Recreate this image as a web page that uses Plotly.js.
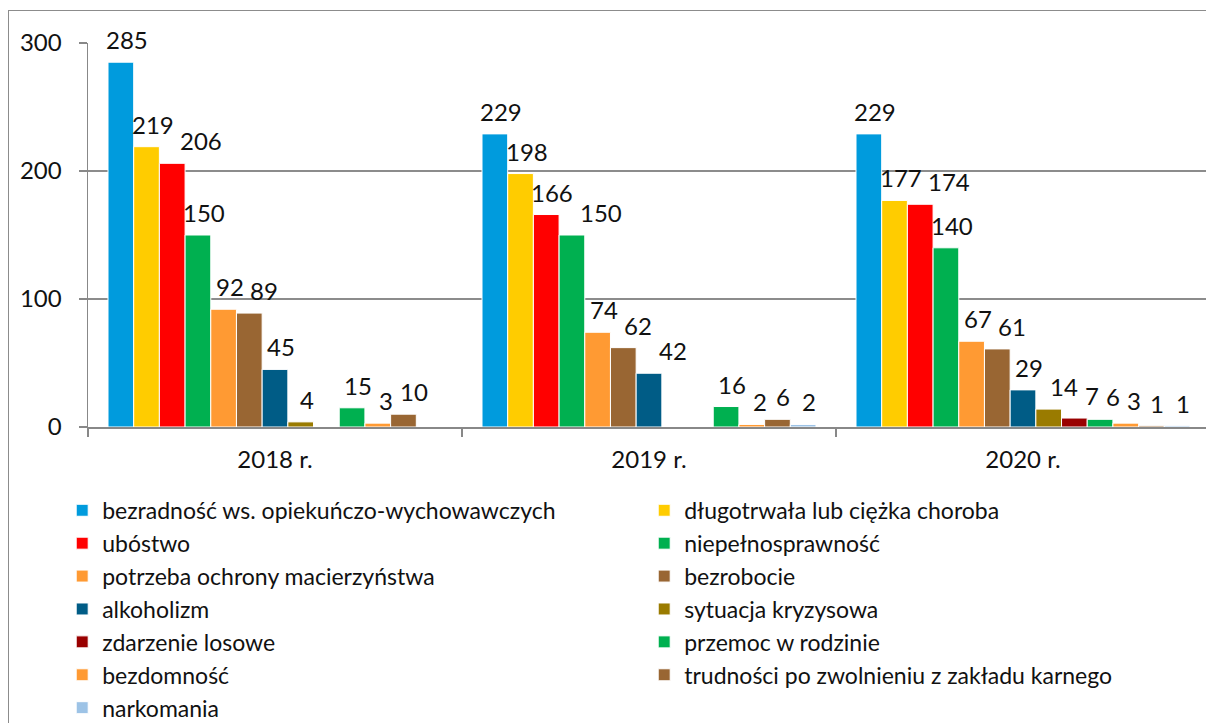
<!DOCTYPE html>
<html>
<head>
<meta charset="utf-8">
<script src="https://cdn.plot.ly/plotly-3.0.1.min.js"></script>
<style>
html, body { margin: 0; padding: 0; background: #fff; overflow: hidden; width: 1206px; height: 723px; }
#frame { position: absolute; left: 8px; top: 10px; width: 1300px; height: 800px; border-left: 1.5px solid #8c8c8c; border-top: 1.5px solid #8c8c8c; }
#chart { position: absolute; left: 0; top: 0; width: 1210px; height: 723px; }
</style>
</head>
<body>
<div id="frame"></div>
<div id="chart"></div>
<script>
const categories = ['2018 r.', '2019 r.', '2020 r.'];
const seriesNames = [
  'bezradność ws. opiekuńczo-wychowawczych',
  'długotrwała lub ciężka choroba',
  'ubóstwo',
  'niepełnosprawność',
  'potrzeba ochrony macierzyństwa',
  'bezrobocie',
  'alkoholizm',
  'sytuacja kryzysowa',
  'zdarzenie losowe',
  'przemoc w rodzinie',
  'bezdomność',
  'trudności po zwolnieniu z zakładu karnego',
  'narkomania'
];
const bezradnosc = [285, 229, 229];
const choroba = [219, 198, 177];
const ubostwo = [206, 166, 174];
const niepelnosprawnosc = [150, 150, 140];
const macierzynstwo = [92, 74, 67];
const bezrobocie = [89, 62, 61];
const alkoholizm = [45, 42, 29];
const kryzysowa = [4, null, 14];
const losowe = [null, null, 7];
const przemoc = [15, 16, 6];
const bezdomnosc = [3, 2, 3];
const karnego = [10, 6, 1];
const narkomania = [null, 2, 1];
const seriesValues = [bezradnosc, choroba, ubostwo, niepelnosprawnosc, macierzynstwo, bezrobocie,
  alkoholizm, kryzysowa, losowe, przemoc, bezdomnosc, karnego, narkomania];
const colors = ['#009BDD', '#FFCC00', '#FF0000', '#00B050', '#FF9A33', '#996633',
  '#005C86', '#9A7B00', '#990000', '#00B050', '#FF9A33', '#996633', '#9DC3E6'];

const FONT = 'Lato, "Open Sans", sans-serif';
const FS = 24;
const W = 1210, H = 723;
const M = { l: 88, r: 0, t: 43, b: 296, autoexpand: false };
const BARGAP = 0.107;
const YMAX = 300;

const traces = seriesNames.map((name, i) => ({
  type: 'bar',
  name: name,
  x: categories,
  y: seriesValues[i],
  marker: { color: colors[i], line: { color: '#ffffff', width: 1 } },
  hoverinfo: 'name+y'
}));

// value labels placed above each bar; nudge right when they would collide with an earlier label
const plotW = W - M.l - M.r, plotH = H - M.t - M.b;
const catW = plotW / categories.length;
const barW = catW * (1 - BARGAP) / seriesNames.length;
const digitW = FS * 0.58, boxH = FS * 1.15;
const GAP = 12, NUDGE = 6, SEP = 7;
const annotations = [];
categories.forEach((cat, j) => {
  const placed = [];
  seriesValues.forEach((vals, i) => {
    const v = vals[j];
    if (v === null) return;
    const label = String(v);
    let dx = (i - (seriesNames.length - 1) / 2) * barW + NUDGE;
    const w = label.length * digitW;
    const bottom = v / YMAX * plotH + GAP - 6;
    const top = bottom + boxH;
    placed.forEach(p => {
      const vOverlap = bottom < p.top && top > p.bottom;
      const minX = p.right + SEP + w / 2;
      if (vOverlap && dx < minX) dx = minX;
    });
    placed.push({ right: dx + w / 2, top: top, bottom: bottom });
    annotations.push({
      x: cat, y: v, xref: 'x', yref: 'y',
      xshift: dx, yshift: GAP - 6,
      yanchor: 'bottom', xanchor: 'center',
      text: label, showarrow: false,
      font: { family: FONT, size: FS, color: '#111' }
    });
  });
});

const layout = {
  width: W,
  height: H,
  margin: M,
  paper_bgcolor: 'rgba(0,0,0,0)',
  plot_bgcolor: 'rgba(0,0,0,0)',
  barmode: 'group',
  bargap: BARGAP,
  bargroupgap: 0,
  showlegend: true,
  annotations: annotations,
  font: { family: FONT, size: FS, color: '#111' },
  xaxis: {
    type: 'category',
    showline: true,
    linecolor: '#888',
    linewidth: 1.5,
    ticks: 'outside',
    tickson: 'boundaries',
    ticklen: 8,
    tickcolor: '#888',
    tickwidth: 1.5,
    showgrid: false,
    ticklabelstandoff: 11,
    tickfont: { family: FONT, size: FS, color: '#111' }
  },
  yaxis: {
    range: [0, YMAX],
    dtick: 100,
    showline: true,
    linecolor: '#888',
    linewidth: 1.5,
    ticks: 'outside',
    ticklen: 8,
    tickcolor: '#888',
    tickwidth: 1.5,
    showgrid: true,
    gridcolor: '#8c8c8c',
    gridwidth: 1.5,
    zeroline: false,
    ticklabelstandoff: 12,
    tickfont: { family: FONT, size: FS, color: '#111' }
  },
  legend: {
    orientation: 'h',
    x: -0.023,
    xanchor: 'left',
    y: -0.161,
    yanchor: 'top',
    traceorder: 'normal',
    entrywidth: 537,
    entrywidthmode: 'pixels',
    font: { family: FONT, size: 23, color: '#111' },
    itemclick: false,
    itemdoubleclick: false
  }
};

Plotly.newPlot('chart', traces, layout, { displayModeBar: false, staticPlot: true });
</script>
</body>
</html>
